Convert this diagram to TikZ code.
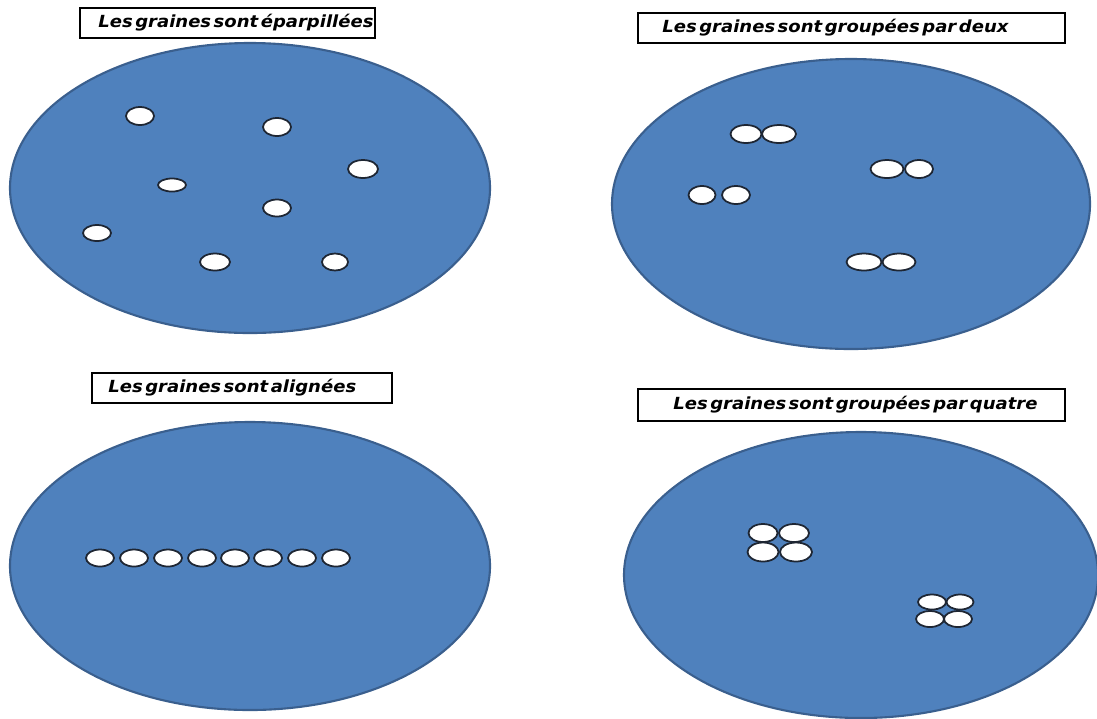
\documentclass[tikz,border=0pt]{standalone}
\usepackage{fontspec}
\newfontfamily\lblfont{DejaVu Sans}[FakeStretch=1.08,WordSpace=0.4]
\definecolor{dishblue}{HTML}{4F81BD}
\definecolor{dishline}{HTML}{3A5F8E}
\definecolor{seedline}{HTML}{1E2633}
\begin{document}
\begin{tikzpicture}[x=0.02cm, y=-0.02cm,
		dish/.style={fill=dishblue, draw=dishline, line width=1.2pt},
		seed/.style={fill=white, draw=seedline, line width=1pt},
		lblbox/.style={draw, line width=0.8pt, minimum height=0.6cm, inner sep=0pt},
		lbltext/.style={font=\lblfont\bfseries\itshape\fontsize{9.5}{11}\selectfont, inner sep=0pt, anchor=west}]
	\useasboundingbox (0,0) rectangle (1097,718);
	% labels
	\node[lblbox, minimum width=5.9cm] (box1) at (227.5,23) {};
	\node[lbltext] (txt1) at (98,23) {Les graines sont éparpillées};
	\node[lblbox, minimum width=8.54cm] (box2) at (851.5,28) {};
	\node[lbltext] (txt2) at (662,28) {Les graines sont groupées par deux};
	\node[lblbox, minimum width=6cm] (box3) at (242,388) {};
	\node[lbltext] (txt3) at (108,388) {Les graines sont alignées};
	\node[lblbox, minimum width=8.54cm, minimum height=0.64cm] (box4) at (851.5,405) {};
	\node[lbltext] (txt4) at (673,405) {Les graines sont groupées par quatre};
	% dishes
	\draw[dish] (250,188) ellipse [x radius=240, y radius=145];
	\draw[dish] (851,204) ellipse [x radius=239, y radius=145];
	\draw[dish] (250,566) ellipse [x radius=240, y radius=144];
	\draw[dish] (861,575) ellipse [x radius=237, y radius=143];
	% scattered
	\foreach \x/\y/\a/\b in {140/116/14/9, 277/127/14/9, 363/169/15/9, 172/185/14/6.5,
			277/208/14/8.5, 97/233/14/8, 215/262/15/8.5, 335/262/13/8.5}
		\draw[seed] (\x,\y) ellipse [x radius=\a, y radius=\b];
	% pairs
	\foreach \x/\y/\a/\b in {746/134/15.5/9, 779/134/17/9, 887/169/16.5/9, 919/169/14/9,
			702/195/13.5/9, 736/195/14/9, 864/262/17.5/8.5, 899/262/16.5/8.5}
		\draw[seed] (\x,\y) ellipse [x radius=\a, y radius=\b];
	% aligned
	\foreach \x in {100,134,168,202,235,268,302,336}
		\draw[seed] (\x,558) ellipse [x radius=14, y radius=8.5];
	% fours
	\foreach \x/\y/\a/\b in {763/533/14.5/9, 794/533/15/9, 763/552/15.5/9.5, 796/552/16/9.5,
			932/602/14/7.5, 960/602/13.5/7.5, 930/619/14/8, 958/619/14/8}
		\draw[seed] (\x,\y) ellipse [x radius=\a, y radius=\b];
\end{tikzpicture}
\end{document}
